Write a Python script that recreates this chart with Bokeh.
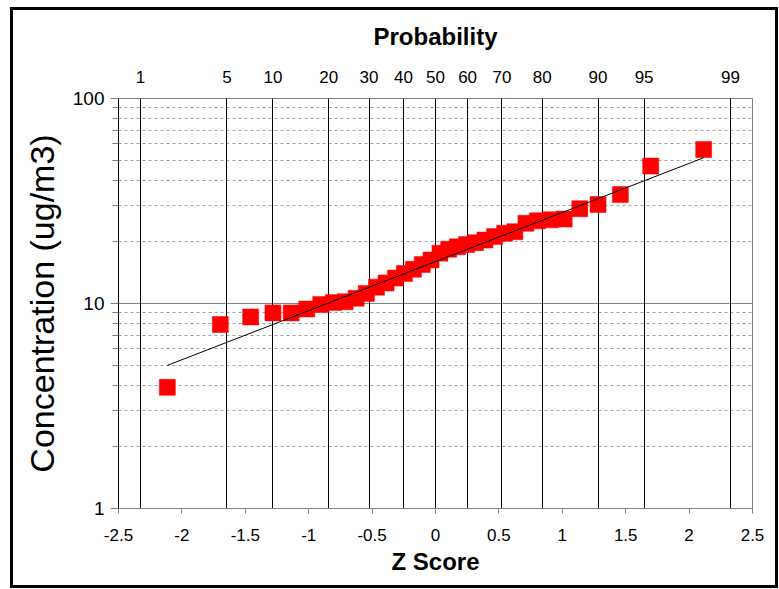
from bokeh.plotting import figure
from bokeh.models import Range1d, LinearAxis, FixedTicker, Grid, NumeralTickFormatter, ColumnDataSource
from bokeh.embed import file_html
from bokeh.resources import INLINE

# --- data ---
z_score = [-2.115, -1.697, -1.458, -1.282, -1.138, -1.015, -0.905, -0.805, -0.713,
           -0.626, -0.545, -0.466, -0.390, -0.316, -0.245, -0.174, -0.104, -0.035,
           0.035, 0.104, 0.174, 0.245, 0.316, 0.390, 0.466, 0.545, 0.626, 0.713,
           0.805, 0.905, 1.015, 1.138, 1.282, 1.458, 1.697, 2.115]
concentration = [3.9, 7.9, 8.6, 9.0, 9.0, 9.4, 9.9, 10.1, 10.2,
                 10.6, 11.2, 12.0, 12.6, 13.3, 14.0, 14.7, 15.5, 16.3,
                 17.6, 18.4, 18.9, 19.4, 19.8, 20.4, 21.2, 22.0, 22.4, 24.6,
                 25.3, 25.6, 25.8, 29.0, 30.4, 34.0, 46.8, 56.4]
fit_z = [-2.115, 2.115]
fit_conc = [4.99, 51.4]

prob_labels = ["1", "5", "10", "20", "30", "40", "50", "60", "70", "80", "90", "95", "99"]
prob_z = [-2.326, -1.645, -1.282, -0.842, -0.524, -0.253, 0.0,
          0.253, 0.524, 0.842, 1.282, 1.645, 2.326]
z_ticks = [-2.5, -2.0, -1.5, -1.0, -0.5, 0.0, 0.5, 1.0, 1.5, 2.0, 2.5]
conc_ticks = [1, 10, 100]
conc_minor = [2, 3, 4, 5, 6, 7, 8, 9, 20, 30, 40, 50, 60, 70, 80, 90]

FONT = "Liberation Sans"

p = figure(width=768, height=581,
           x_range=Range1d(-2.5, 2.5), y_range=Range1d(1, 100),
           y_axis_type="log", output_backend="svg", toolbar_location=None,
           min_border_left=105, min_border_right=29,
           min_border_top=88, min_border_bottom=83)
p.styles = {"margin-left": "10px", "margin-top": "7px",
            "border": "3px solid black"}
p.background_fill_color = "white"
p.border_fill_color = "white"
p.outline_line_color = "#808080"
p.outline_line_width = 1

# bottom axis
xa = p.xaxis[0]
xa.ticker = FixedTicker(ticks=z_ticks)
xa.formatter = NumeralTickFormatter(format="0.[0]")
xa.axis_label = "Z Score"
xa.axis_label_text_font = FONT
xa.axis_label_text_font_style = "bold"
xa.axis_label_text_font_size = "24px"
xa.axis_label_text_color = "black"
xa.axis_label_standoff = 4
xa.major_label_text_font = FONT
xa.major_label_text_font_size = "17px"
xa.major_label_text_color = "black"
xa.major_label_standoff = 15
xa.axis_line_color = "#808080"
xa.major_tick_line_color = "#808080"
xa.major_tick_out = 5
xa.major_tick_in = 0
xa.minor_tick_line_color = None

# left axis
ya = p.yaxis[0]
ya.ticker = FixedTicker(ticks=conc_ticks, minor_ticks=conc_minor)
ya.formatter = NumeralTickFormatter(format="0")
ya.axis_label = "Concentration (ug/m3)"
ya.axis_label_text_font = FONT
ya.axis_label_text_font_style = "normal"
ya.axis_label_text_font_size = "34px"
ya.axis_label_text_color = "black"
ya.axis_label_standoff = 9
ya.major_label_text_font = FONT
ya.major_label_text_font_size = "19px"
ya.major_label_text_color = "black"
ya.major_label_standoff = 6
ya.axis_line_color = "black"
ya.major_tick_line_color = "#808080"
ya.major_tick_out = 8
ya.major_tick_in = 0
ya.minor_tick_line_color = "#808080"
ya.minor_tick_out = 6
ya.minor_tick_in = 0

# top probability axis
top = LinearAxis(ticker=FixedTicker(ticks=prob_z),
                 major_label_overrides=dict(zip(prob_z, prob_labels)))
top.axis_label = "Probability"
top.axis_label_text_font = FONT
top.axis_label_text_font_style = "bold"
top.axis_label_text_font_size = "24px"
top.axis_label_text_color = "black"
top.axis_label_standoff = 18
top.major_label_text_font = FONT
top.major_label_text_font_size = "17px"
top.major_label_text_color = "black"
top.major_label_standoff = 10
top.axis_line_color = None
top.major_tick_line_color = None
top.minor_tick_line_color = None
p.add_layout(top, "above")

# grids
p.xgrid.visible = False
p.ygrid.grid_line_color = "#808080"
p.ygrid.grid_line_width = 1
p.ygrid.minor_grid_line_color = "#a0a0a0"
p.ygrid.minor_grid_line_dash = "3 3"
p.ygrid.minor_grid_line_width = 1

prob_grid = Grid(dimension=0, ticker=FixedTicker(ticks=prob_z),
                 grid_line_color="black", grid_line_width=1)
p.add_layout(prob_grid)

src = ColumnDataSource(data=dict(z=z_score, c=concentration))
p.scatter("z", "c", source=src, marker="square", size=16,
          fill_color="#ff0000", line_color="#ff0000", line_width=0.5)
p.line(fit_z, fit_conc, line_color="black", line_width=1)

open("out.html", "w").write(file_html(p, INLINE))
